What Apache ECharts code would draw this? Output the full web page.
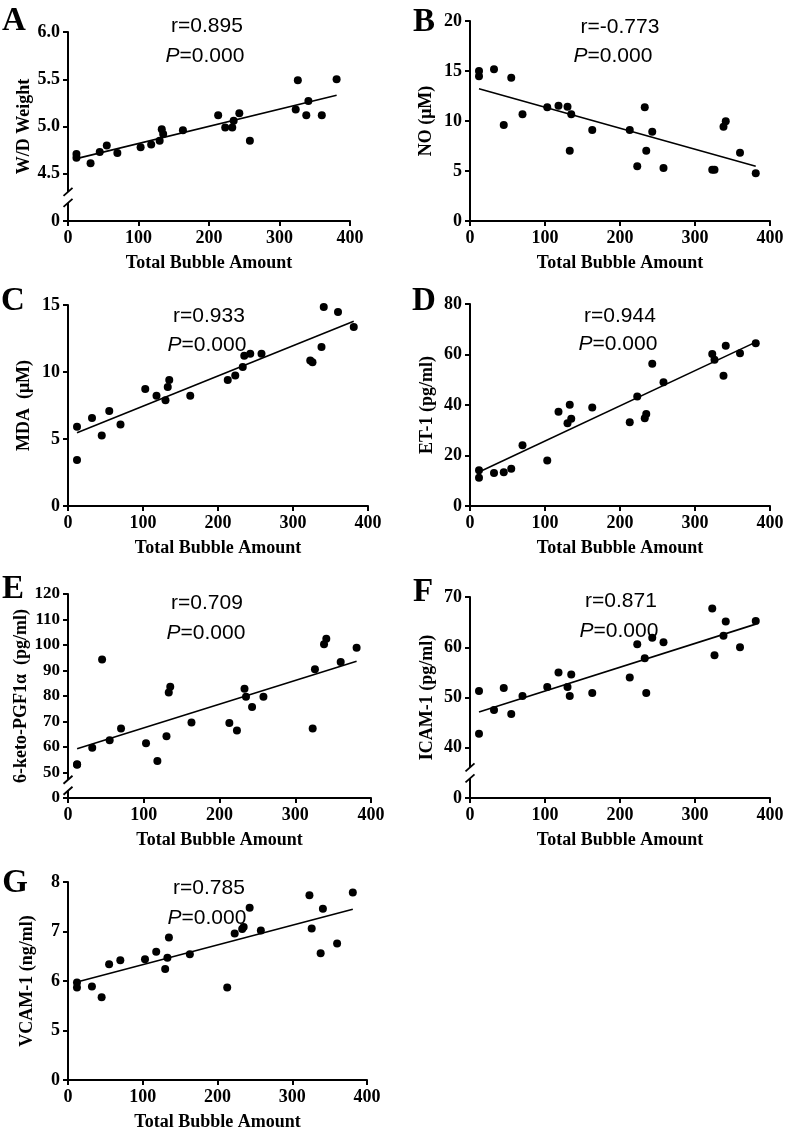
<!DOCTYPE html>
<html><head><meta charset="utf-8">
<script src="https://cdn.jsdelivr.net/npm/echarts@6/dist/echarts.min.js"></script>
<style>html,body{margin:0;padding:0;background:#fff}#c{width:787px;height:1134px}</style>
</head><body><div id="c"></div>
<script>
// ---------- data ----------
const bubbleAmount = [12,12,32,45,55,70,103,118,130,133,135,163,213,223,233,235,243,258,323,326,338,341,360,381];
const xTickValues = [0,100,200,300,400];

const wdWeight = [4.71,4.67,4.61,4.73,4.80,4.72,4.78,4.81,4.85,4.97,4.92,4.96,5.12,4.99,4.99,5.06,5.14,4.85,5.18,5.49,5.12,5.27,5.12,5.50];
const noLevel  = [15.0,14.47,15.17,9.6,14.33,10.67,11.37,11.53,11.43,7.03,10.67,9.1,9.1,5.47,11.37,7.03,8.93,5.3,5.13,5.13,9.43,9.97,6.83,4.77];
const mdaLevel = [5.92,3.43,6.57,5.27,7.09,6.09,8.73,8.23,7.89,8.88,9.40,8.23,9.40,9.73,10.37,11.22,11.37,11.37,10.85,10.72,11.87,14.85,14.48,13.36];
const et1Level = [14.2,11.2,13.1,13.4,14.8,24.1,18.0,37.3,32.8,40.1,34.6,39.0,33.2,43.4,34.8,36.4,56.3,49.0,60.2,57.9,51.6,63.5,60.5,64.5];
const pgfLevel = [53.2,53.0,59.7,94.3,62.6,67.3,61.5,54.5,64.2,81.4,83.6,69.6,69.4,66.5,82.8,79.7,75.7,79.7,67.3,90.5,100.3,102.5,93.3,98.9];
const icamLevel = [51.3,42.8,47.5,51.9,46.7,50.3,52.1,55.0,52.1,50.3,54.6,50.9,54.0,60.6,57.8,50.9,61.9,61.0,67.7,58.4,62.3,65.1,60.0,65.2];
const vcamLevel = [5.97,5.87,5.89,5.67,6.34,6.42,6.44,6.59,6.24,6.47,6.88,6.54,5.87,6.96,7.05,7.09,7.48,7.02,7.73,7.06,6.56,7.46,6.76,7.79];

// regression line end points
const fitX = [12, 381];
const fitWD = [4.66, 5.33];
const fitNO = [13.23, 5.47];
const fitMDA = [5.47, 13.78];
const fitET1 = [13.5, 64.9];
const fitPGF = [59.3, 93.6];
const fitICAM = [47.1, 64.6];
const fitVCAM = [5.98, 7.45];

// y tick values / labels
const ticksA = [0,4.5,5.0,5.5,6.0];   const labelsA = ['0','4.5','5.0','5.5','6.0'];
const ticksB = [0,5,10,15,20];        const labelsB = ['0','5','10','15','20'];
const ticksC = [0,5,10,15];           const labelsC = ['0','5','10','15'];
const ticksD = [0,20,40,60,80];       const labelsD = ['0','20','40','60','80'];
const ticksE = [0,50,60,70,80,90,100,110,120]; const labelsE = ['0','50','60','70','80','90','100','110','120'];
const ticksF = [0,40,50,60,70];       const labelsF = ['0','40','50','60','70'];
const ticksG = [0,5,6,7,8];           const labelsG = ['0','5','6','7','8'];

const panelLetters = ['A','B','C','D','E','F','G'];
const yTitles = ['W/D Weight','NO (μM)','MDA  (μM)','ET-1 (pg/ml)','6-keto-PGF1α  (pg/ml)','ICAM-1 (pg/ml)','VCAM-1 (ng/ml)'];
const rTexts = ['r=0.895','r=-0.773','r=0.933','r=0.944','r=0.709','r=0.871','r=0.785'];
const pTexts = ['0.000','0.000','0.000','0.000','0.000','0.000','0.000'];
const xTitle = 'Total Bubble Amount';

// ---------- layout ----------
const panels = [
  {y:wdWeight, fit:fitWD,  ticks:ticksA, labels:labelsA, grid:{left:68,top:32,width:282,height:189}, letter:[14,21], r:[207,26], p:[205,56], gap:32, brk:true, yfs:18},
  {y:noLevel,  fit:fitNO,  ticks:ticksB, labels:labelsB, grid:{left:470,top:21,width:300,height:200}, letter:[424,22], r:[620,27], p:[613,56], gap:35, brk:false, yfs:18},
  {y:mdaLevel, fit:fitMDA, ticks:ticksC, labels:labelsC, grid:{left:68,top:305,width:300,height:201}, letter:[13,301], r:[209,316], p:[207,345], gap:35, brk:false, yfs:18},
  {y:et1Level, fit:fitET1, ticks:ticksD, labels:labelsD, grid:{left:470,top:304,width:300,height:202}, letter:[424,301], r:[620,316], p:[618,344], gap:34, brk:false, yfs:18},
  {y:pgfLevel, fit:fitPGF, ticks:ticksE, labels:labelsE, grid:{left:68,top:594,width:303,height:204}, letter:[13,589], r:[207,603], p:[206,633], gap:32, brk:true, yfs:17},
  {y:icamLevel,fit:fitICAM,ticks:ticksF, labels:labelsF, grid:{left:470,top:597,width:300,height:201}, letter:[423,592], r:[621,601], p:[619,631], gap:34, brk:true, yfs:18},
  {y:vcamLevel,fit:fitVCAM,ticks:ticksG, labels:labelsG, grid:{left:68,top:882,width:299,height:198}, letter:[15,883], r:[209,888], p:[207,918], gap:32, brk:false, yfs:18}
];

// piecewise mapping of a value onto tick-index units (broken axis)
function toAxis(ticks, v){
  for (let i=1;i<ticks.length;i++){
    if (v <= ticks[i]) return (i-1) + (v - ticks[i-1])/(ticks[i]-ticks[i-1]);
  }
  const n = ticks.length;
  return (n-1) + (v - ticks[n-1])/(ticks[n-1]-ticks[n-2]);
}

const SERIF = '"Liberation Serif","Times New Roman",serif';
const SANS = '"Liberation Sans",Arial,sans-serif';

const option = {animation:false, backgroundColor:'#fff', grid:[], xAxis:[], yAxis:[], series:[], graphic:[]};

panels.forEach((pn,i)=>{
  option.grid.push(Object.assign({containLabel:false}, pn.grid));
  option.xAxis.push({
    type:'value', gridIndex:i, min:xTickValues[0], max:xTickValues[xTickValues.length-1], interval:100,
    name:xTitle, nameLocation:'middle', nameGap:33,
    nameTextStyle:{fontFamily:SERIF, fontWeight:'bold', fontSize:18, color:'#000'},
    axisLine:{show:true, onZero:false, lineStyle:{color:'#000', width:2}},
    axisTick:{show:true, inside:false, length:5, lineStyle:{color:'#000', width:2}},
    axisLabel:{fontFamily:SERIF, fontWeight:'bold', fontSize:18, color:'#000', margin:8, showMinLabel:true, showMaxLabel:true, hideOverlap:false},
    splitLine:{show:false}
  });
  const labs = pn.labels;
  option.yAxis.push({
    type:'value', gridIndex:i, min:0, max:pn.ticks.length-1, interval:1,
    name:yTitles[i], nameLocation:'middle', nameGap:pn.gap, nameRotate:90,
    nameTextStyle:{fontFamily:SERIF, fontWeight:'bold', fontSize:18, color:'#000'},
    axisLine:{show:true, onZero:false, lineStyle:{color:'#000', width:2}},
    axisTick:{show:true, inside:false, length:5, lineStyle:{color:'#000', width:2}},
    axisLabel:{fontFamily:SERIF, fontWeight:'bold', fontSize:pn.yfs, color:'#000', margin:8,
      showMinLabel:true, showMaxLabel:true, hideOverlap:false,
      formatter:(v)=>labs[Math.round(v)]},
    splitLine:{show:false}
  });
  option.series.push({
    type:'scatter', xAxisIndex:i, yAxisIndex:i, symbol:'circle', symbolSize:8,
    itemStyle:{color:'#000', opacity:1}, silent:true, z:4,
    data: bubbleAmount.map((x,k)=>[x, toAxis(pn.ticks, pn.y[k])])
  });
  option.series.push({
    type:'line', xAxisIndex:i, yAxisIndex:i, symbol:'none', silent:true, z:3,
    lineStyle:{color:'#000', width:1.6},
    data: fitX.map((x,k)=>[x, toAxis(pn.ticks, pn.fit[k])])
  });
  if (pn.brk){
    option.series.push({
      type:'custom', xAxisIndex:i, yAxisIndex:i, silent:true, clip:false, z:6,
      data:[[0, 0.5]],
      renderItem:(params, api)=>{
        const c = api.coord([api.value(0), api.value(1)]);
        const d = 5.5;
        return {type:'group', children:[
          {type:'rect', shape:{x:c[0]-3, y:c[1]-d, width:6, height:2*d}, style:{fill:'#fff'}},
          {type:'line', shape:{x1:c[0]-4.5, y1:c[1]-d+4, x2:c[0]+4.5, y2:c[1]-d-4}, style:{stroke:'#000', lineWidth:1.8}},
          {type:'line', shape:{x1:c[0]-4.5, y1:c[1]+d+4, x2:c[0]+4.5, y2:c[1]+d-4}, style:{stroke:'#000', lineWidth:1.8}}
        ]};
      }
    });
  }
  option.graphic.push({
    type:'text', x:pn.letter[0], y:pn.letter[1], silent:true,
    style:{text:panelLetters[i], font:'bold 33px '+SERIF, fill:'#000', align:'center', verticalAlign:'middle'}
  });
  option.graphic.push({
    type:'text', x:pn.r[0], y:pn.r[1], silent:true,
    style:{text:rTexts[i], font:'21px '+SANS, fill:'#000', align:'center', verticalAlign:'middle'}
  });
  option.graphic.push({
    type:'text', x:pn.p[0], y:pn.p[1], silent:true,
    style:{text:'{i|P}='+pTexts[i], font:'21px '+SANS, fill:'#000', align:'center', verticalAlign:'middle',
      rich:{i:{fontStyle:'italic', fontFamily:SANS, fontSize:21}}}
  });
});

const chart = echarts.init(document.getElementById('c'), null, {renderer:'canvas'});
chart.setOption(option);
</script>
</body></html>
